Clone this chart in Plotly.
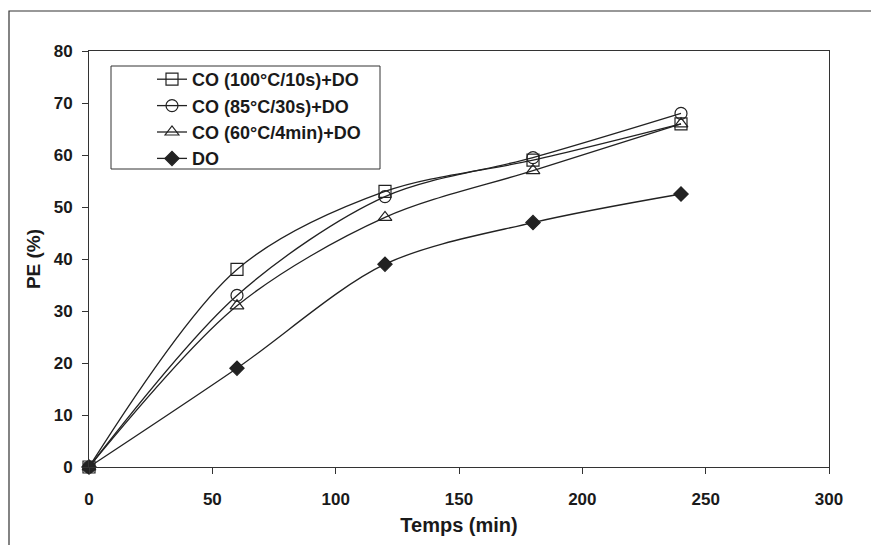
import plotly.graph_objects as go

temps = [0, 60, 120, 180, 240]
co_100 = [0, 38, 53, 59, 66]
co_85 = [0, 33, 52, 59.5, 68]
co_60 = [0, 31, 48, 57, 66]
do = [0, 19, 39, 47, 52.5]

x_ticks = [0, 50, 100, 150, 200, 250, 300]
y_ticks = [0, 10, 20, 30, 40, 50, 60, 70, 80]

names = ["CO (100°C/10s)+DO", "CO (85°C/30s)+DO", "CO (60°C/4min)+DO", "DO"]
symbols = ["square-open", "circle-open", "triangle-up-open", "diamond"]
sizes = [12, 12, 12, 11]
series = [co_100, co_85, co_60, do]

# plot area in image pixels: x 89..829, y 51..467 (page body adds 8px offset)
PX0, PW, PY0, PH = 89, 740, 467, 416


def px(v):
    return (v - PX0) / PW


def py(v):
    return (PY0 - v) / PH


fig = go.Figure()
for name, ys, sym, sz in zip(names, series, symbols, sizes):
    fig.add_trace(go.Scatter(
        x=temps, y=ys, name=name, mode="lines+markers",
        line=dict(color="#222222", width=1.3, shape="spline", smoothing=0.9),
        marker=dict(symbol=sym, size=sz, color="#222222", line=dict(color="#222222", width=1.2)),
        cliponaxis=False,
    ))

fig.update_layout(
    width=871, height=537,
    margin=dict(l=81, r=50, t=43, b=78, autoexpand=False),
    paper_bgcolor="white", plot_bgcolor="white",
    font=dict(family="Liberation Sans, Arial", color="#1a1a1a"),
    showlegend=True,
    legend=dict(
        x=px(152), y=py(61), xanchor="left", yanchor="top",
        borderwidth=0, bgcolor="rgba(0,0,0,0)",
        font=dict(size=18, weight="bold"), tracegroupgap=0, itemwidth=30,
    ),
    xaxis=dict(
        range=[0, 300], tickmode="array", tickvals=x_ticks,
        ticktext=["<b>%d</b>" % t for t in x_ticks],
        showgrid=False, zeroline=False,
        showline=True, mirror=True, linecolor="#333333", linewidth=1,
        ticks="outside", ticklen=6, tickcolor="#333333",
        tickfont=dict(size=17), ticklabelstandoff=11,
        title=dict(text="<b>Temps (min)</b>", font=dict(size=20), standoff=9),
    ),
    yaxis=dict(
        range=[0, 80], tickmode="array", tickvals=y_ticks,
        ticktext=["<b>%d</b>" % t for t in y_ticks],
        showgrid=False, zeroline=False,
        showline=True, mirror=True, linecolor="#333333", linewidth=1,
        ticks="outside", ticklen=6, tickcolor="#333333",
        tickfont=dict(size=17), ticklabelstandoff=6,
        title=dict(text="<b>PE (%)</b>", font=dict(size=19), standoff=8),
    ),
    shapes=[
        dict(type="rect", xref="paper", yref="paper",
             x0=px(9), x1=px(900), y0=py(560), y1=py(11),
             line=dict(color="#333333", width=1.2), layer="below"),
        dict(type="rect", xref="paper", yref="paper",
             x0=px(111), x1=px(380), y0=py(169), y1=py(66),
             line=dict(color="#333333", width=1), fillcolor="white", layer="below"),
    ],
)

fig.write_html("out.html")
